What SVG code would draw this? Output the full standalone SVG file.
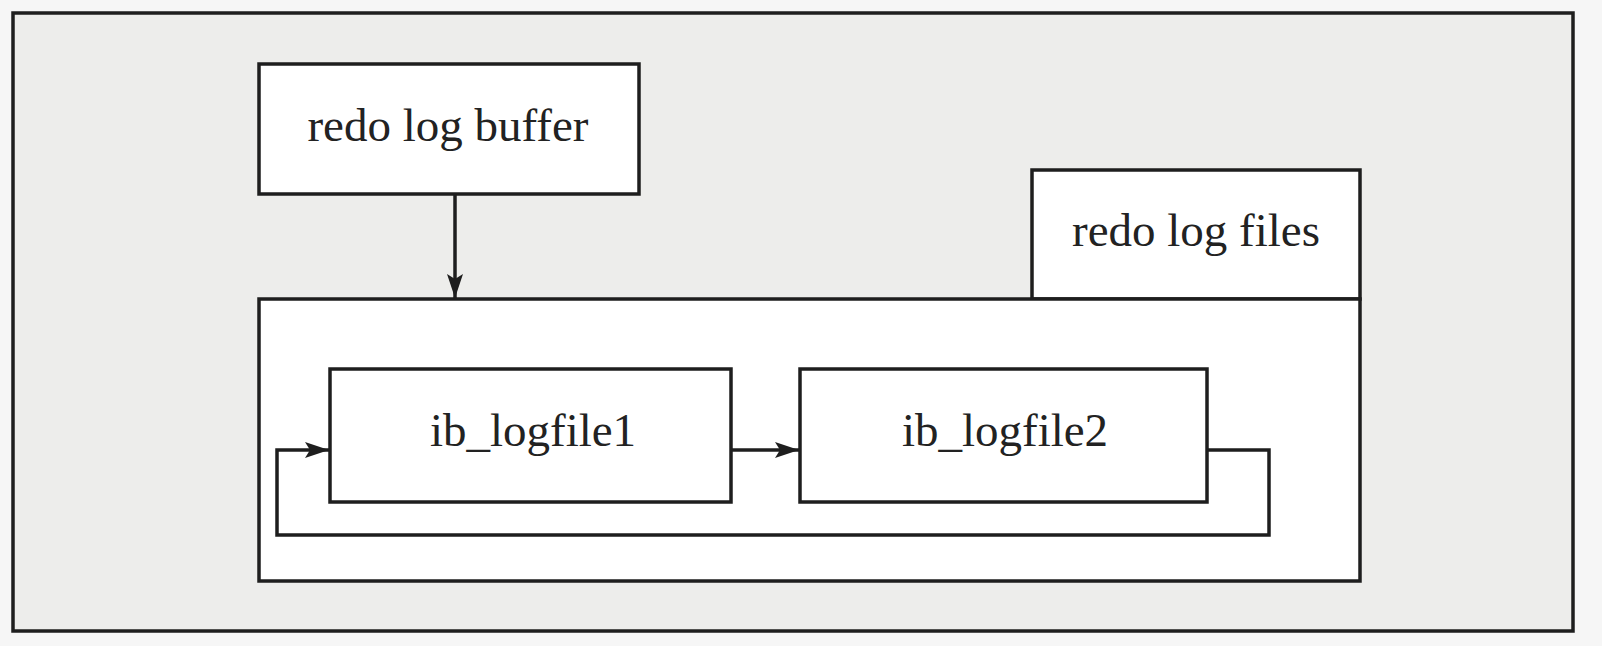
<svg xmlns="http://www.w3.org/2000/svg" width="1602" height="646" viewBox="0 0 1602 646">
<defs>
<style>
.box{fill:#ffffff;stroke:#1e1e1e;stroke-width:3.5}
.lbl{font-family:"Liberation Serif","Times New Roman",serif;font-size:47px;fill:#222222;text-anchor:middle}
.conn{fill:none;stroke:#1e1e1e;stroke-width:3.5}
</style>
<marker id="arr" markerUnits="userSpaceOnUse" markerWidth="26" markerHeight="16" refX="24" refY="8" orient="auto">
<path d="M0,0 L24,8 L0,16 L5,8 z" fill="#1e1e1e"/>
</marker>
</defs>
<rect x="0" y="0" width="1602" height="646" fill="#f6f6f6"/>
<rect id="frame" x="13" y="13" width="1560" height="618" fill="#ededeb" stroke="#1e1e1e" stroke-width="3.5"/>
<g id="redo-log-buffer">
<rect class="box" x="259" y="64" width="380" height="130"/>
<text class="lbl" x="448" y="141">redo log buffer</text>
</g>
<g id="redo-log-files">
<rect class="box" x="1032" y="170" width="328" height="129"/>
<text class="lbl" x="1196" y="246">redo log files</text>
<rect class="box" x="259" y="299" width="1101" height="282"/>
</g>
<g id="ib_logfile1">
<rect class="box" x="330" y="369" width="401" height="133"/>
<text class="lbl" x="533" y="446">ib_logfile1</text>
</g>
<g id="ib_logfile2">
<rect class="box" x="800" y="369" width="407" height="133"/>
<text class="lbl" x="1005" y="446">ib_logfile2</text>
</g>
<g id="connectors">
<line class="conn" x1="455" y1="194" x2="455" y2="298" marker-end="url(#arr)"/>
<line class="conn" x1="731" y1="450" x2="799" y2="450" marker-end="url(#arr)"/>
<polyline class="conn" points="1207,450 1269,450 1269,535 277,535 277,450 329,450" marker-end="url(#arr)"/>
</g>
</svg>
